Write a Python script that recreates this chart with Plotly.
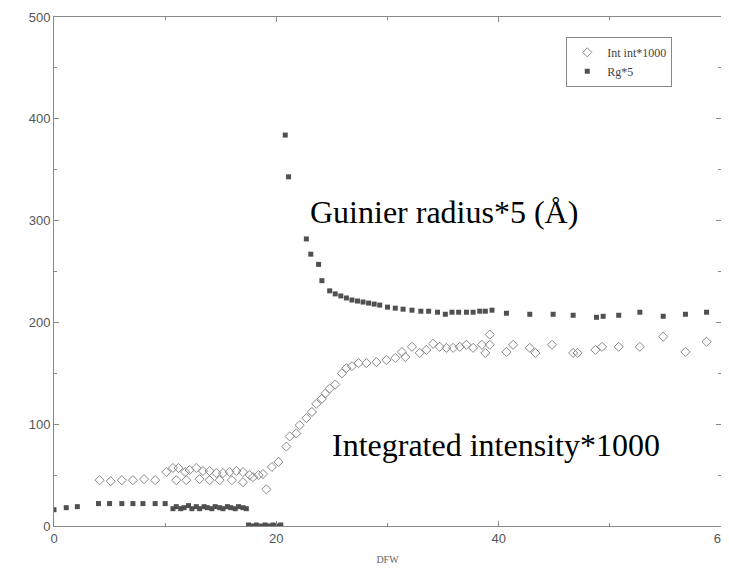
import plotly.graph_objects as go

# ---- data ----
rg_x = [0.0, 1.1, 2.1, 4.0, 5.0, 6.1, 7.1, 8.0, 9.1, 10.0,
        10.7, 11.0, 11.4, 11.7, 12.1, 12.4, 12.8, 13.1, 13.5, 13.8,
        14.2, 14.5, 14.9, 15.2, 15.6, 15.9, 16.3, 16.6, 17.0, 17.3,
        17.5, 17.9, 18.2, 18.6, 19.0, 19.3, 19.7, 20.1, 20.4,
        20.8, 21.1, 22.7, 23.1, 23.8, 24.1, 24.8, 25.3, 25.8, 26.3,
        26.8, 27.3, 27.8, 28.3, 28.8, 29.3, 30.0, 30.7, 31.4, 32.2,
        33.0, 33.7, 34.5, 35.2, 35.8, 36.4, 37.1, 37.7, 38.3, 38.8,
        39.4, 40.7, 42.8, 44.9, 46.7, 48.8, 49.4, 50.8, 52.7, 54.8,
        56.8, 58.7]
rg_y = [16, 18, 19, 22, 22, 22, 22, 22, 22, 22,
        17, 19, 17, 18, 20, 17, 19, 17, 19, 18,
        17, 19, 18, 17, 19, 18, 17, 19, 18, 17,
        1, 0, 1, 0, 1, 0, 1, 0, 1,
        384, 343, 282, 267, 257, 241, 231, 228, 226, 224,
        222, 221, 220, 219, 218, 217, 215, 214, 213, 212,
        211, 211, 210, 208, 210, 210, 210, 210, 211, 211,
        212, 209, 208, 208, 207, 205, 206, 207, 210, 206,
        208, 210]

int_x = [4.1, 5.1, 6.1, 7.1, 8.1, 9.1, 10.1,
         10.7, 11.0, 11.2, 11.8, 11.9, 12.2, 12.8, 13.1, 13.4, 14.0, 14.0,
         14.6, 14.9, 15.2, 15.8, 16.0, 16.4, 17.0, 17.0, 17.6,
         17.9, 18.4, 18.8, 19.1, 19.6, 20.2, 20.9, 21.2, 21.8,
         22.1, 22.7, 23.2, 23.6, 24.1, 24.4, 24.8, 25.3, 25.9, 26.3,
         26.8, 27.4, 28.1, 29.0, 29.9, 30.7, 31.3, 31.6, 32.2, 32.9,
         33.5, 34.1, 34.7, 35.3, 35.9, 36.5, 37.1, 37.7, 38.5, 38.8,
         39.2, 39.2, 40.7, 41.3, 42.8, 43.3, 44.8, 46.7, 47.1, 48.7,
         49.3, 50.8, 52.7, 54.8, 56.8, 58.7]
int_y = [45, 44, 45, 45, 46, 45, 53,
         57, 45, 57, 53, 45, 55, 57, 46, 54, 54, 45,
         52, 45, 52, 53, 45, 54, 53, 43, 50,
         48, 50, 51, 36, 58, 63, 78, 88, 91,
         99, 106, 112, 120, 125, 130, 135, 139, 150, 155,
         157, 160, 160, 161, 163, 165, 171, 166, 176, 170,
         173, 179, 176, 175, 175, 176, 178, 175, 178, 170,
         188, 178, 171, 178, 175, 170, 178, 170, 170, 173,
         176, 176, 176, 186, 171, 181]

x_ticks = [0, 20, 40, 60]
y_ticks = [0, 100, 200, 300, 400, 500]

fig = go.Figure()
fig.add_trace(go.Scatter(
    x=int_x, y=int_y, mode="markers", name="Int int*1000",
    marker=dict(symbol="diamond-open", size=7, color="#888888",
                line=dict(width=1, color="#888888"))))
fig.add_trace(go.Scatter(
    x=rg_x, y=rg_y, mode="markers", name="Rg*5",
    marker=dict(symbol="square", size=5, color="#505050")))

serif = "Liberation Serif, Times New Roman, serif"
fig.add_annotation(x=22.85, y=308, text="Guinier radius*5 (Å)", showarrow=False,
                   xanchor="left", yanchor="middle",
                   font=dict(family=serif, size=32, color="black"))
fig.add_annotation(x=24.8, y=80, text="Integrated intensity*1000", showarrow=False,
                   xanchor="left", yanchor="middle",
                   font=dict(family=serif, size=32, color="black"))

axis_common = dict(showline=True, linecolor="#888888", linewidth=1, mirror="ticks",
                   ticks="inside", ticklen=5, tickcolor="#888888",
                   showgrid=False, zeroline=False, automargin=False,
                   ticklabeloverflow="allow",
                   tickfont=dict(family="Liberation Sans, Arial, sans-serif",
                                 size=13, color="#555555"))

fig.update_xaxes(range=[0, 60], tickvals=x_ticks,
                 minor=dict(dtick=10, ticks="inside", ticklen=3, tickcolor="#888888"),
                 title=dict(text="DFW", font=dict(family=serif, size=10, color="#666666"),
                            standoff=21),
                 **axis_common)
fig.update_yaxes(range=[0, 500], tickvals=y_ticks,
                 minor=dict(dtick=50, ticks="inside", ticklen=3, tickcolor="#888888"),
                 **axis_common)

# the page body has an 8px margin; size the figure so it fits the 729x573 window
fig.update_layout(
    width=713, height=557,
    margin=dict(l=46, r=0, t=9, b=39),
    paper_bgcolor="white", plot_bgcolor="white",
    showlegend=True,
    legend=dict(x=0.768, y=0.961, xanchor="left", yanchor="top",
                bordercolor="#888888", borderwidth=1, bgcolor="white",
                font=dict(family=serif, size=12, color="#444444"),
                itemwidth=30, tracegroupgap=0),
)

fig.write_html("out.html")
